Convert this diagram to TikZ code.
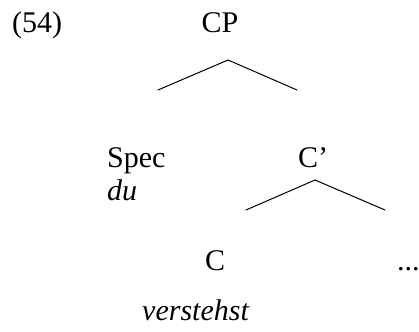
\documentclass[tikz,border=0pt]{standalone}
\usepackage{fontspec}
\setmainfont{Liberation Serif}
\begin{document}
\begin{tikzpicture}[x=1pt,y=-1pt,
  lbl/.style={inner sep=0pt,anchor=base west,font=\fontsize{30}{36}\selectfont},
  branch/.style={line width=1pt,line cap=round}]
\useasboundingbox (0,0) rectangle (419,331);
% labels
\node[lbl] (num) at (12,33) {(54)};
\node[lbl,anchor=base] (cp) at (220,33) {CP};
\node[lbl] (spec) at (107,167) {Spec};
\node[lbl] (cbar) at (298,167) {C'};
\node[lbl] (du) at (107,200) {\itshape du};
\node[lbl] (c) at (205,270) {C};
\node[lbl] (dots) at (397,270) {...};
\node[lbl] (verb) at (142,320) {\itshape verstehst};
% branching points
\coordinate (cp-top) at (228,60);
\coordinate (cp-l) at (158,90);
\coordinate (cp-r) at (297,90);
\coordinate (cbar-top) at (315,180);
\coordinate (cbar-l) at (246,210);
\coordinate (cbar-r) at (385,210);
\draw[branch] (cp-l) -- (cp-top) -- (cp-r);
\draw[branch] (cbar-l) -- (cbar-top) -- (cbar-r);
\end{tikzpicture}
\end{document}
